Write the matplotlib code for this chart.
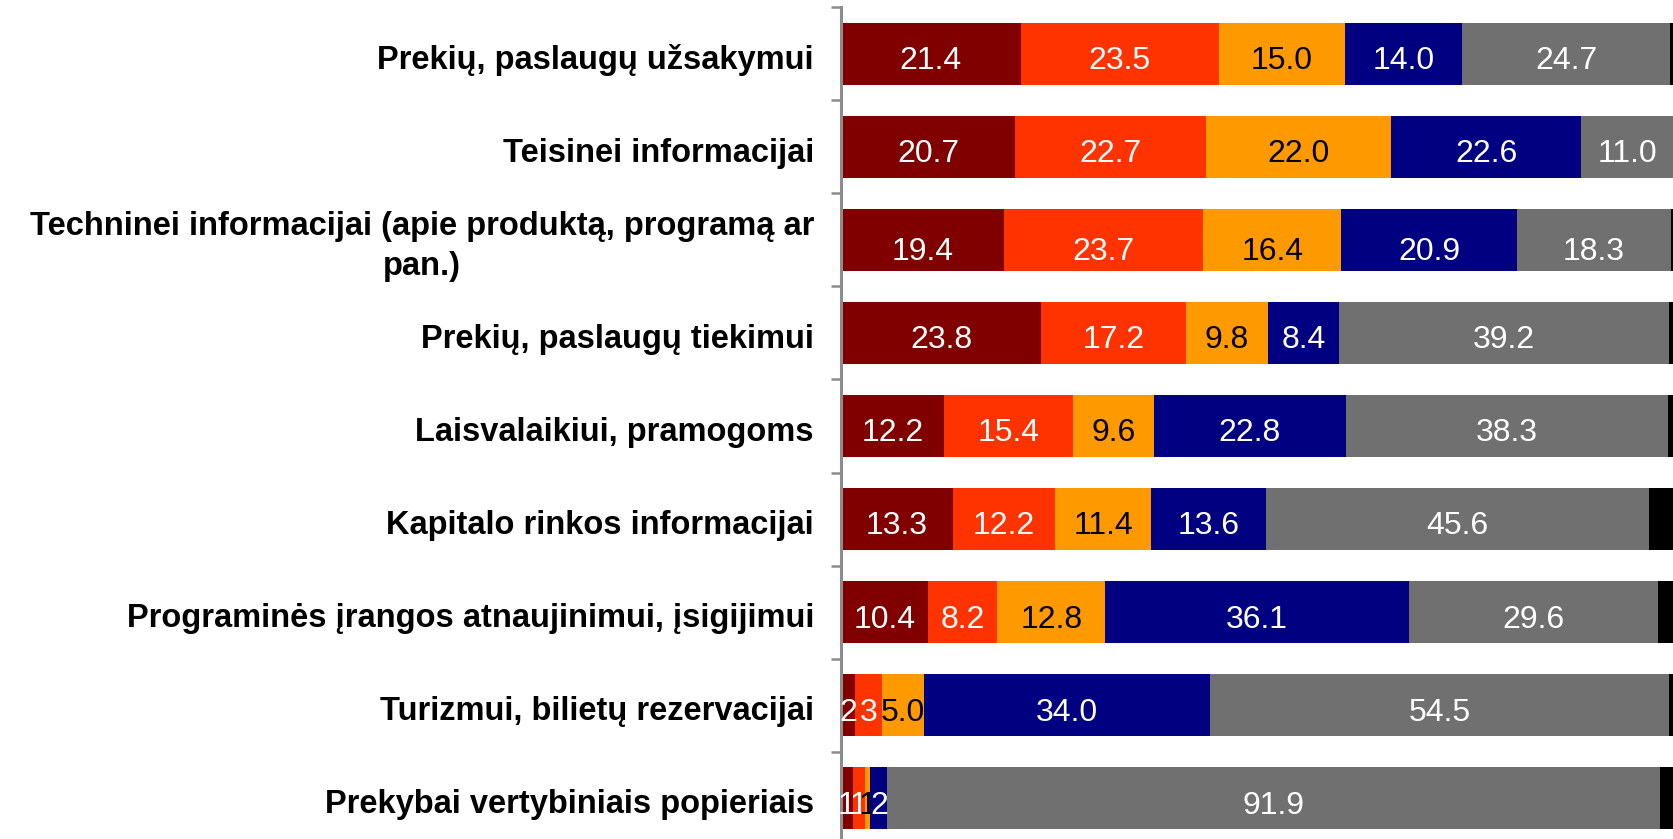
import matplotlib
matplotlib.use("Agg")
import matplotlib.pyplot as plt
import numpy as np

plt.rcParams['font.family'] = ['Liberation Sans', 'DejaVu Sans']

# kategorijos (is virsaus i apacia)
kategorijos = [
    "Prekių, paslaugų užsakymui",
    "Teisinei informacijai",
    "Techninei informacijai (apie produktą, programą ar\npan.)",
    "Prekių, paslaugų tiekimui",
    "Laisvalaikiui, pramogoms",
    "Kapitalo rinkos informacijai",
    "Programinės įrangos atnaujinimui, įsigijimui",
    "Turizmui, bilietų rezervacijai",
    "Prekybai vertybiniais popieriais",
]

s1 = [21.4, 20.7, 19.4, 23.8, 12.2, 13.3, 10.4, 1.7, 1.4]
s2 = [23.5, 22.7, 23.7, 17.2, 15.4, 12.2, 8.2, 3.2, 1.4]
s3 = [15.0, 22.0, 16.4, 9.8, 9.6, 11.4, 12.8, 5.0, 0.7]
s4 = [14.0, 22.6, 20.9, 8.4, 22.8, 13.6, 36.1, 34.0, 2.0]
s5 = [24.7, 11.0, 18.3, 39.2, 38.3, 45.6, 29.6, 54.5, 91.9]
s6 = [1.4, 1.0, 1.3, 1.6, 1.7, 3.9, 2.9, 1.5, 2.6]

serijos = [s1, s2, s3, s4, s5, s6]
spalvos = ['#800000', '#FF3300', '#FF9900', '#000080', '#707070', '#000000']
teksto_spalvos = ['white', 'white', 'black', 'white', 'white', None]

W, H = 1674, 839
fig = plt.figure(figsize=(W / 100, H / 100), dpi=100)
px_x0 = 841
px_unit = 8.41
row_h = 93.1
top_px = 7
ax = fig.add_axes([px_x0 / W, 1 - (top_px + 9 * row_h) / H,
                   100 * px_unit / W, 9 * row_h / H])

y = np.arange(len(kategorijos))
left = np.zeros(len(kategorijos))
for vals, col, tcol in zip(serijos, spalvos, teksto_spalvos):
    vals = np.array(vals)
    ax.barh(y, vals, left=left, height=0.667, color=col, edgecolor='none')
    if tcol is not None:
        for i, v in enumerate(vals):
            lab = f"{v:.0f}" if v < 4 else f"{v:.1f}"
            dy = 0.13 if i == 2 else 0.08
            ax.text(left[i] + v / 2, y[i] + dy, lab, ha='center', va='center',
                    color=tcol, fontsize=23)
    left += vals

ax.set_xlim(0, 100)
ax.set_ylim(len(kategorijos) - 0.5, -0.5)
ax.set_xticks([])
for sp in ['top', 'right', 'bottom']:
    ax.spines[sp].set_visible(False)
ax.spines['left'].set_color('#8c8c8c')
ax.spines['left'].set_linewidth(2.2)

# kategoriju pavadinimai
ax.set_yticks([])
for i, k in enumerate(kategorijos):
    ax.text(-27 / (100 * px_unit), y[i] + 0.07, k, transform=ax.get_yaxis_transform(),
            ha='right', va='center', multialignment='center', linespacing=1.38,
            fontsize=23.5, fontweight='bold')
ax.set_yticks(np.arange(-0.5, len(kategorijos)), minor=True)
ax.tick_params(axis='y', which='minor', length=7.5, width=1.8, color='#8c8c8c')

fig.savefig("out.png", dpi=100)
